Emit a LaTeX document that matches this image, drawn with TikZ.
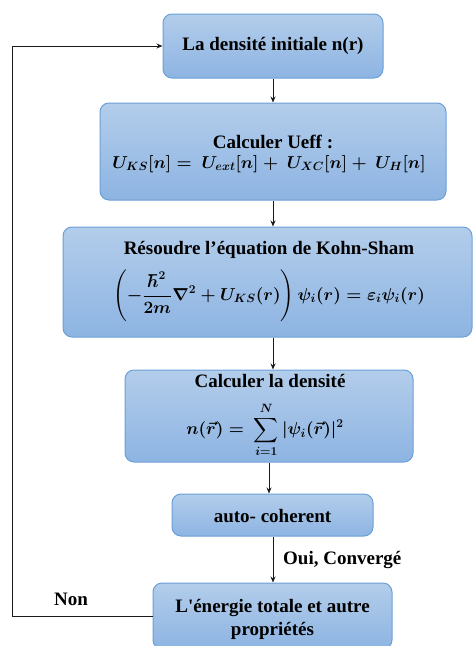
\documentclass[tikz,border=0pt]{standalone}
\usepackage{amsmath}
\usepackage{fontspec}
\setmainfont{Liberation Serif}
\newfontfamily\plainrm{Liberation Serif}
\usetikzlibrary{arrows.meta,calc}
\definecolor{boxtop}{HTML}{B3CDEB}
\definecolor{boxbot}{HTML}{8DB4E2}
\definecolor{boxline}{HTML}{6A9FD8}
\definecolor{lnk}{HTML}{1A1A1A}
\tikzset{
  flowbox/.style={draw=boxline, line width=1pt, rounded corners=9pt,
    top color=boxtop, bottom color=boxbot, inner sep=0pt},
  txt/.style={align=center, inner sep=0pt, text=black,
    font=\fontsize{19}{23}\selectfont\bfseries},
  eq/.style={inner sep=0pt, text=black, font=\fontsize{17}{20}\selectfont\boldmath},
  arr/.style={draw=lnk, line width=0.9pt, -{Stealth[length=6pt,width=5pt]}}
}
\begin{document}
\begin{tikzpicture}[x=1pt,y=-1pt]
\useasboundingbox (0,0) rectangle (474,646);
\node[flowbox, minimum width=220pt, minimum height=64pt] (b1) at (273,46) {};
\node[flowbox, minimum width=346pt, minimum height=97pt] (b2) at (273,151.5) {};
\node[flowbox, minimum width=409pt, minimum height=110pt] (b3) at (267.5,282) {};
\node[flowbox, minimum width=288pt, minimum height=92pt] (b4) at (269,416) {};
\node[flowbox, minimum width=201pt, minimum height=42pt] (b5) at (272.5,515) {};
\node[flowbox, minimum width=239pt, minimum height=66pt] (b6) at (272.5,616) {};
\node[txt] (t1) at (273,46) {La densité initiale n(r)};
\node[txt] (t2) at (273,142) {Calculer Ueff :};
\node[eq] (e2) at (269,164) {$U_{KS}[n] =\ U_{ext}[n] +\ U_{XC}[n] +\ U_{H}[n]$};
\node[txt] (t3) at (269,250) {Résoudre l’équation de Kohn-Sham};
\node[eq] (e3) at (269,296) {$\displaystyle\left(-\frac{\hbar^2}{2m}\nabla^2+U_{KS}(r)\right)\psi_i(r)=\varepsilon_i\psi_i(r)$};
\node[txt] (t4) at (270,381) {Calculer la densité};
\node[eq] (e4) at (265,430) {$\displaystyle n(\vec r)=\ \sum_{i=1}^{N}|\psi_i(\vec r)|^2$};
\node[txt] (t5) at (272.5,516) {auto- coherent};
\node[txt] (t6) at (272.5,619) {{\plainrm L'}énergie totale et autre\\ propriétés};
\draw[arr] (b1.south) -- (b1.south |- b2.north);
\draw[arr] (b2.south) -- (b2.south |- b3.north);
\draw[arr] (b3.south -| b1) -- (b4.north -| b1);
\draw[arr] (b4.south) -- (b4.south |- b5.north);
\draw[arr] (b5.south -| b1) -- (b6.north -| b1);
\draw[arr] (b6.west) -- ++(-140,0) |- (b1.west);
\node[txt, anchor=west] (oui) at (283,560) {Oui, Convergé};
\node[txt] (non) at (71,599) {Non};
\end{tikzpicture}
\end{document}
